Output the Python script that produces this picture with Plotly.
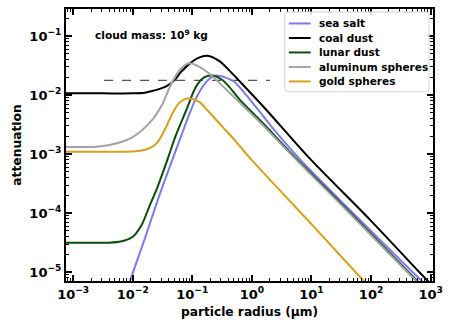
import plotly.graph_objects as go

# ---- data (radius in µm, attenuation) ----
coal_r = [0.00076, 0.00316, 0.01, 0.0158, 0.0191, 0.0251, 0.0363, 0.0501, 0.0631, 0.0891, 0.126, 0.180, 0.282, 0.417, 0.603, 1.58, 8.9, 100, 692, 1122]
coal_a = [0.01072, 0.01072, 0.01072, 0.0110, 0.0115, 0.0123, 0.0141, 0.0178, 0.0240, 0.0339, 0.0427, 0.0464, 0.0380, 0.0263, 0.0178, 0.0063, 8.9e-4, 7.4e-5, 9.3e-6, 5.6e-6]

salt_r = [0.00794, 0.0158, 0.0282, 0.0468, 0.0794, 0.112, 0.158, 0.209, 0.263, 0.355, 0.501, 0.794, 1.17, 2.51, 6.03, 31.6, 537, 1122]
salt_a = [5.0e-6, 3.6e-5, 2.04e-4, 8.3e-4, 3.5e-3, 8.3e-3, 0.0151, 0.0200, 0.0215, 0.0200, 0.0170, 0.0102, 0.0063, 0.0024, 8.7e-4, 1.58e-4, 9.3e-6, 4.5e-6]

lunar_r = [0.00076, 0.00398, 0.0063, 0.01, 0.0141, 0.0191, 0.0251, 0.0389, 0.0525, 0.0794, 0.115, 0.158, 0.219, 0.316, 0.417, 0.631, 1.58, 5.01, 31.6, 457, 1122]
lunar_a = [3.16e-5, 3.16e-5, 3.3e-5, 3.98e-5, 6.3e-5, 1.32e-4, 2.51e-4, 8.5e-4, 2.04e-3, 5.6e-3, 0.0138, 0.0200, 0.0215, 0.0182, 0.0138, 0.0083, 0.00324, 9.3e-4, 1.45e-4, 9.3e-6, 3.7e-6]

alum_r = [0.00076, 0.00282, 0.00562, 0.01, 0.0200, 0.0316, 0.0437, 0.0631, 0.0891, 0.132, 0.200, 0.316, 0.631, 1.58, 5.01, 31.6, 437, 1122]
alum_a = [1.32e-3, 1.35e-3, 1.55e-3, 1.95e-3, 3.55e-3, 7.1e-3, 0.0151, 0.0275, 0.0347, 0.0302, 0.0224, 0.0145, 0.0074, 0.0030, 8.9e-4, 1.38e-4, 9.3e-6, 3.6e-6]

gold_r = [0.00076, 0.00316, 0.01, 0.0141, 0.0191, 0.0240, 0.0282, 0.0355, 0.0468, 0.0603, 0.0708, 0.0832, 0.105, 0.132, 0.178, 0.316, 0.501, 0.955, 10, 69, 158]
gold_a = [1.1e-3, 1.1e-3, 1.11e-3, 1.15e-3, 1.26e-3, 1.45e-3, 1.78e-3, 2.75e-3, 5.0e-3, 7.4e-3, 8.3e-3, 8.8e-3, 8.5e-3, 7.6e-3, 5.6e-3, 2.95e-3, 1.78e-3, 8.3e-4, 6.5e-5, 7.8e-6, 3.2e-6]

threshold_r = [0.0033, 2.0]
threshold_a = [0.0178, 0.0178]

names = ["sea salt", "coal dust", "lunar dust", "aluminum spheres", "gold spheres"]
colors = ["#7b7be8", "#000000", "#0b4d0b", "#a3a3a3", "#d4a21c"]
series_r = [salt_r, coal_r, lunar_r, alum_r, gold_r]
series_a = [salt_a, coal_a, lunar_a, alum_a, gold_a]

x_tick_vals = [1e-3, 1e-2, 1e-1, 1, 10, 100, 1000]
x_tick_text = ["10<sup>−3</sup>", "10<sup>−2</sup>", "10<sup>−1</sup>", "10<sup>0</sup>", "10<sup>1</sup>", "10<sup>2</sup>", "10<sup>3</sup>"]
y_tick_vals = [1e-5, 1e-4, 1e-3, 1e-2, 1e-1]
y_tick_text = ["10<sup>−5</sup>", "10<sup>−4</sup>", "10<sup>−3</sup>", "10<sup>−2</sup>", "10<sup>−1</sup>"]

FONT = "DejaVu Sans"
W, H = 450, 324
ML, MR, MT, MB = 66, 15, 7, 41
PW, PH = W - ML - MR, H - MT - MB


def px(x):
    return (x - ML) / PW


def py(y):
    return 1 - (y - MT) / PH


fig = go.Figure()
fig.add_trace(go.Scatter(x=threshold_r, y=threshold_a, mode="lines", showlegend=False,
                         line=dict(color="#555555", width=1.3, dash="dash")))
for n, c, r, a in zip(names, colors, series_r, series_a):
    fig.add_trace(go.Scatter(x=r, y=a, name=n, mode="lines", showlegend=False,
                             line=dict(color=c, width=2, shape="spline", smoothing=0.8)))


def minor_vals(lo, hi):
    out = []
    for k in range(lo, hi + 1):
        for m in range(2, 10):
            out.append(m * 10.0 ** k)
    return out


axis_common = dict(type="log", showgrid=False, zeroline=False, showline=True, linewidth=2,
                   linecolor="black", mirror="allticks", ticks="inside", ticklen=6, tickwidth=1.5,
                   tickcolor="black", tickfont=dict(family=FONT, size=13, color="black", weight="bold"))

fig.update_xaxes(**axis_common, range=[-3.12, 3.04], tickvals=x_tick_vals, ticktext=x_tick_text,
                 minor=dict(tickvals=minor_vals(-4, 3), ticks="inside", ticklen=3, tickwidth=1.2,
                            tickcolor="black", showgrid=False),
                 title=dict(text="particle radius (µm)", standoff=7,
                            font=dict(family=FONT, size=12.2, color="black", weight="bold")))
fig.update_yaxes(**axis_common, range=[-5.15, -0.54], tickvals=y_tick_vals, ticktext=y_tick_text,
                 minor=dict(tickvals=minor_vals(-6, -1), ticks="inside", ticklen=3, tickwidth=1.2,
                            tickcolor="black", showgrid=False),
                 title=dict(text="attenuation", standoff=5,
                            font=dict(family=FONT, size=12.3, color="black", weight="bold")))

fig.add_annotation(text="cloud mass: 10<sup>9</sup> kg", xref="paper", yref="paper",
                   x=px(93), y=py(32.5), xanchor="left", yanchor="middle", showarrow=False,
                   font=dict(family=FONT, size=10.6, color="black", weight="bold"))

# legend box (rounded) and entries
bx0, bx1, by0, by1, rr = px(286), px(431), py(10), py(91), 3
rx, ry = rr / PW, rr / PH
path = (f"M {bx0+rx},{by0} L {bx1-rx},{by0} Q {bx1},{by0} {bx1},{by0-ry} "
        f"L {bx1},{by1+ry} Q {bx1},{by1} {bx1-rx},{by1} L {bx0+rx},{by1} "
        f"Q {bx0},{by1} {bx0},{by1+ry} L {bx0},{by0-ry} Q {bx0},{by0} {bx0+rx},{by0} Z")
fig.add_shape(type="path", path=path, xref="paper", yref="paper",
              fillcolor="rgba(255,255,255,0.85)", line=dict(color="#d4d4d4", width=1), layer="above")
row_y = [21.7, 36.4, 51.1, 65.8, 80.5]
for n, c, yy in zip(names, colors, row_y):
    fig.add_shape(type="line", xref="paper", yref="paper", x0=px(290), x1=px(312),
                  y0=py(yy), y1=py(yy), line=dict(color=c, width=2), layer="above")
    fig.add_annotation(text=n, xref="paper", yref="paper", x=px(318.5), y=py(yy),
                       xanchor="left", yanchor="middle", showarrow=False,
                       font=dict(family=FONT, size=10.5, color="black", weight="bold"))

fig.update_layout(
    width=W, height=H,
    margin=dict(l=ML, r=MR, t=MT, b=MB),
    paper_bgcolor="white", plot_bgcolor="white",
    font=dict(family=FONT),
    showlegend=False,
)

fig.write_html("out.html")
